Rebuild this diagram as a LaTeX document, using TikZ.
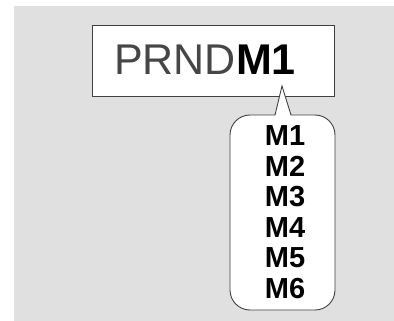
\documentclass[tikz,border=0pt]{standalone}
\usepackage{fontspec}
\setmainfont{Liberation Sans}
\usetikzlibrary{positioning}
\definecolor{bggray}{RGB}{224,224,224}
\definecolor{edgegray}{RGB}{64,64,64}
\definecolor{txtgray}{RGB}{70,70,70}

\begin{document}
\begin{tikzpicture}[x=1pt,y=-1pt]
\def\cl{230}%callout left
\def\cr{335}%callout right
\def\ct{115}%callout top
\def\cb{310}%callout bottom
\def\gap{30.4}%line spacing

\useasboundingbox (0,0) rectangle (394,321);
\fill[bggray] (14,6) rectangle (394,321);

% gear display
\node[draw=edgegray, line width=0.9pt, fill=white, minimum width=242pt, minimum height=71pt, inner sep=0pt] (disp) at (213,60.5) {};
\node[anchor=base, inner sep=0pt, font=\fontsize{43}{43}\selectfont] (sel) at (205,75) {\textcolor{txtgray}{PRND}\textbf{M1}};

% callout with manual gears
\draw[edgegray, line width=0.9pt, fill=white]
  (282,86) -- (291,\ct) [rounded corners=20pt] -- (\cr,\ct) -- (\cr,\cb) -- (\cl,\cb) -- (\cl,\ct) [sharp corners] -- (275,\ct) -- cycle;

\foreach \g [count=\i] in {1,...,6}
{
  \node[anchor=base, inner sep=0pt, font=\fontsize{29}{29}\selectfont\bfseries] (m\g) at (285,{146+(\i-1)*\gap}) {M\g};
}
\end{tikzpicture}
\end{document}
